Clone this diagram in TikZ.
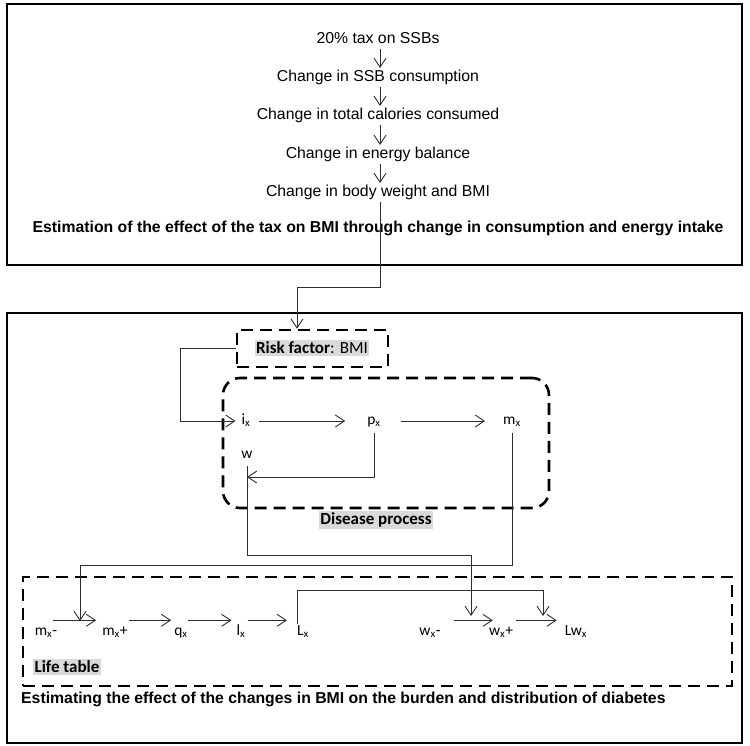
\documentclass[tikz,border=0pt]{standalone}
\usepackage{fontspec}
\setmainfont{Liberation Sans}
\newfontfamily\calibri{Carlito}
\usetikzlibrary{arrows.meta,positioning,calc}
\definecolor{wire}{HTML}{2E2E2E}
\definecolor{shade}{HTML}{D9D9D9}

\begin{document}
\begin{tikzpicture}[x=1pt,y=-1pt,font=\fontsize{15.8}{19}\selectfont,
  frame/.style={draw,line width=2.4pt,inner sep=0pt},
  dbox/.style={draw,line width=2.6pt,dash pattern=on 12pt off 7pt,inner sep=0pt},
  stage/.style={anchor=base,inner xsep=2pt,inner ysep=2pt,text height=11.5pt,text depth=3.3pt},
  lbl/.style={font=\calibri\fontsize{15.5}{18}\selectfont,inner xsep=1pt,inner ysep=1pt,text height=10pt,text depth=3pt},
  tag/.style={font=\calibri\fontsize{17}{20}\selectfont\bfseries,fill=shade,inner sep=1.5pt},
  arr/.style={wire,line width=.9pt,-{Straight Barb[length=9pt,width=12pt]}}]
\useasboundingbox (0,0) rectangle (750,746);
% upper panel
\node[frame,minimum width=735pt,minimum height=261pt] (upper) at (374.5,134.5) {};
\node[stage] (tax) at (378,43.7) {20\% tax on SSBs};
\node[stage] (ssb) at (378,81.7) {Change in SSB consumption};
\node[stage] (cal) at (378,119.7) {Change in total calories consumed};
\node[stage] (bal) at (378,158.7) {Change in energy balance};
\node[stage] (bmi) at (378,196.7) {Change in body weight and BMI};
\node[stage,font=\fontsize{15.8}{19}\selectfont\bfseries] (upperttl) at (378,232.7)
  {Estimation of the effect of the tax on BMI through change in consumption and energy intake};
\foreach \a/\b in {tax/ssb,ssb/cal,cal/bal,bal/bmi}
  \draw[arr] ([xshift=2pt]\a.south) -- ([xshift=2pt]\b.north);

% lower panel
\node[frame,minimum width=735pt,minimum height=430pt] (lower) at (374.5,528) {};
\node[dbox,minimum width=151pt,minimum height=37pt] (riskbox) at (312.5,348.5) {};
\node[tag] (risk) at (312,348) {Risk factor\mdseries: BMI};
\draw[arr] ([xshift=2pt,shorten <=4pt]bmi.south) -- ([xshift=2pt]bmi.south |- 0,287)
  -| ([xshift=-15.5pt]riskbox.north);

\node[dbox,rounded corners=17pt,minimum width=326pt,minimum height=130pt] (disbox) at (386,443) {};
\node[tag] (dis) at (376,520) {Disease process};
\node[lbl] (ix) at (246,421) {i\textsubscript{x}};
\node[lbl] (px) at (374,421) {p\textsubscript{x}};
\node[lbl] (mx) at (512,421) {m\textsubscript{x}};
\node[lbl] (w) at (247,455) {w};
\coordinate (wtap) at (247,477);
\draw[arr,shorten >=5pt] (riskbox.west) -- ++(-55,0) |- (ix.west);
\draw[arr,shorten <=7pt,shorten >=21pt] (ix) -- (px);
\draw[arr,shorten <=19pt,shorten >=17pt] (px) -- (mx);
\draw[arr,shorten <=4pt] (px.south) |- (wtap);

% life table
\node[dbox,minimum width=709pt,minimum height=109pt] (lifebox) at (377.5,631.5) {};
\node[tag] (life) at (67,667) {Life table};
\node[lbl] (mxm) at (46,632) {m\textsubscript{x}-};
\node[lbl] (mxp) at (115,632) {m\textsubscript{x}+};
\node[lbl] (qx) at (181,632) {q\textsubscript{x}};
\node[lbl] (lx) at (241,632) {l\textsubscript{x}};
\node[lbl] (Lx) at (303,632) {L\textsubscript{x}};
\node[lbl] (wxm) at (430,632) {w\textsubscript{x}-};
\node[lbl] (wxp) at (501,632) {w\textsubscript{x}+};
\node[lbl] (lwx) at (576,632) {Lw\textsubscript{x}};
\foreach \a/\b/\s/\e in {mxm/mxp/-5/5,mxp/qx/0/2,qx/lx/-1/4,lx/Lx/1/9,wxm/wxp/12/-5,wxp/lwx/2/7}
  \draw[arr,shorten <=\s pt,shorten >=\e pt] ([yshift=4pt]\a.north east) -- ([yshift=4pt]\b.north west);
\coordinate (mland) at (80,621);
\coordinate (wland) at (471,616);
\coordinate (lland) at (543,616);
\draw[arr,shorten <=4pt] (mx.south) -- (mx.south |- 0,565) -| (mland);
\draw[arr,shorten <=3pt] (w.south) -- (w.south |- 0,555) -| (wland);
\draw[arr] ([xshift=-6pt]Lx.north) -- ([xshift=-6pt]Lx.north |- 0,590) -| (lland);
\node[stage,anchor=base west,inner sep=0pt,font=\fontsize{15.8}{19}\selectfont\bfseries] (lowerttl) at (21,703.7)
  {Estimating the effect of the changes in BMI on the burden and distribution of diabetes};
\end{tikzpicture}
\end{document}
